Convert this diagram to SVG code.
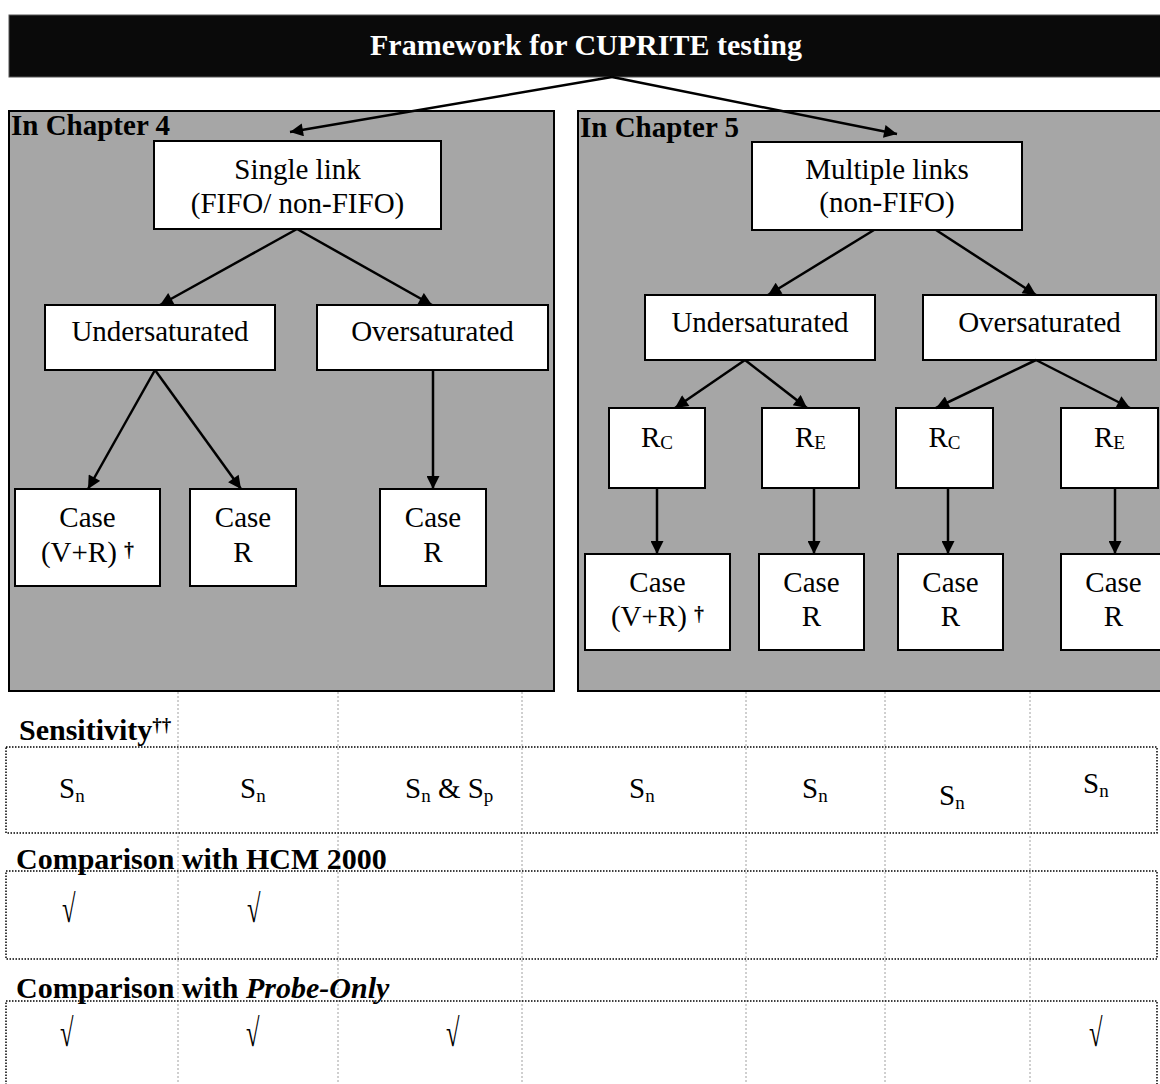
<svg xmlns="http://www.w3.org/2000/svg" width="1160" height="1084" viewBox="0 0 1160 1084">
<style>
.t{font-family:"Liberation Serif","Times New Roman",serif;font-size:29px;fill:#000;text-anchor:middle}
.l{font-family:"Liberation Serif","Times New Roman",serif;font-size:29px;fill:#000}
.bl{font-family:"Liberation Serif","Times New Roman",serif;font-size:30px;font-weight:bold;fill:#000}
.sub{font-size:19px}
.dag{font-size:20px;font-weight:bold}
.box{fill:#fff;stroke:#000;stroke-width:2}
.panel{fill:#a6a6a6;stroke:#000;stroke-width:2}
.conn{stroke:#000;stroke-width:2.5;fill:none;marker-end:url(#ah)}
.grid{stroke:#a0a0a0;stroke-width:1;stroke-dasharray:2 2;fill:none}
.row{stroke:#000;stroke-width:1.5;stroke-dasharray:1.5 1.5;fill:none}
</style>
<defs>
<marker id="ah" viewBox="0 0 10 10" refX="10" refY="5" markerWidth="15" markerHeight="13" markerUnits="userSpaceOnUse" orient="auto">
<path d="M0,0 L10,5 L0,10 z" fill="#000"/>
</marker>
</defs>
<rect width="1160" height="1084" fill="#fff"/>

<g id="header">
<rect x="9" y="15" width="1160" height="62" fill="#0a0a0a" stroke="#555" stroke-width="1"/>
<text x="586" y="55" class="t" style="font-weight:bold;font-size:30px;fill:#fff">Framework for CUPRITE testing</text>
</g>

<g id="panel-ch4">
<rect x="9" y="111" width="545" height="580" class="panel"/>
<text x="11" y="135" class="bl" style="font-size:29px">In Chapter 4</text>
</g>
<g id="panel-ch5">
<rect x="578" y="111" width="590" height="580" class="panel"/>
<text x="580" y="137" class="bl" style="font-size:29px">In Chapter 5</text>
</g>

<g id="single-link">
<rect x="154" y="141" width="287" height="88" class="box"/>
<text x="297.5" y="179" class="t">Single link</text>
<text x="297.5" y="213" class="t">(FIFO/ non-FIFO)</text>
</g>
<g id="under-left">
<rect x="45" y="305" width="230" height="65" class="box"/>
<text x="160" y="341" class="t">Undersaturated</text>
</g>
<g id="over-left">
<rect x="317" y="305" width="231" height="65" class="box"/>
<text x="432.5" y="341" class="t">Oversaturated</text>
</g>
<g id="case-vr-left">
<rect x="15" y="489" width="145" height="97" class="box"/>
<text x="87.5" y="527" class="t">Case</text>
<text x="87.5" y="562" class="t">(V+R) <tspan class="dag" dy="-5">†</tspan></text>
</g>
<g id="case-r-left1">
<rect x="190" y="489" width="106" height="97" class="box"/>
<text x="243" y="527" class="t">Case</text>
<text x="243" y="562" class="t">R</text>
</g>
<g id="case-r-left2">
<rect x="380" y="489" width="106" height="97" class="box"/>
<text x="433" y="527" class="t">Case</text>
<text x="433" y="562" class="t">R</text>
</g>

<g id="multiple-links">
<rect x="752" y="142" width="270" height="88" class="box"/>
<text x="887" y="179" class="t">Multiple links</text>
<text x="887" y="212" class="t">(non-FIFO)</text>
</g>
<g id="under-right">
<rect x="645" y="295" width="230" height="65" class="box"/>
<text x="760" y="332" class="t">Undersaturated</text>
</g>
<g id="over-right">
<rect x="923" y="295" width="233" height="65" class="box"/>
<text x="1039.5" y="332" class="t">Oversaturated</text>
</g>
<g id="rc1">
<rect x="609" y="408" width="96" height="80" class="box"/>
<text x="657" y="447" class="t">R<tspan class="sub" dy="2">C</tspan></text>
</g>
<g id="re1">
<rect x="762" y="408" width="97" height="80" class="box"/>
<text x="810.5" y="447" class="t">R<tspan class="sub" dy="2">E</tspan></text>
</g>
<g id="rc2">
<rect x="896" y="408" width="97" height="80" class="box"/>
<text x="944.5" y="447" class="t">R<tspan class="sub" dy="2">C</tspan></text>
</g>
<g id="re2">
<rect x="1061" y="408" width="97" height="80" class="box"/>
<text x="1109.5" y="447" class="t">R<tspan class="sub" dy="2">E</tspan></text>
</g>
<g id="case-vr-right">
<rect x="585" y="554" width="145" height="96" class="box"/>
<text x="657.5" y="592" class="t">Case</text>
<text x="657.5" y="626" class="t">(V+R) <tspan class="dag" dy="-5">†</tspan></text>
</g>
<g id="case-r-right1">
<rect x="759" y="554" width="105" height="96" class="box"/>
<text x="811.5" y="592" class="t">Case</text>
<text x="811.5" y="626" class="t">R</text>
</g>
<g id="case-r-right2">
<rect x="898" y="554" width="105" height="96" class="box"/>
<text x="950.5" y="592" class="t">Case</text>
<text x="950.5" y="626" class="t">R</text>
</g>
<g id="case-r-right3">
<rect x="1061" y="554" width="105" height="96" class="box"/>
<text x="1113.5" y="592" class="t">Case</text>
<text x="1113.5" y="626" class="t">R</text>
</g>

<g id="connectors">
<path class="conn" d="M612,77 L290,132"/>
<path class="conn" d="M612,77 L897,134"/>
<path class="conn" d="M297,229 L160,305"/>
<path class="conn" d="M297,229 L432,305"/>
<path class="conn" d="M155,370 L88,489"/>
<path class="conn" d="M155,370 L241,489"/>
<path class="conn" d="M433,370 L433,489"/>
<path class="conn" d="M874,230 L768,295"/>
<path class="conn" d="M936,230 L1036,295"/>
<path class="conn" d="M745,360 L675,408"/>
<path class="conn" d="M745,360 L807,408"/>
<path class="conn" d="M1036,360 L936,408"/>
<path class="conn" d="M1036,360 L1130,408"/>
<path class="conn" d="M657,488 L657,554"/>
<path class="conn" d="M814,488 L814,554"/>
<path class="conn" d="M948,488 L948,554"/>
<path class="conn" d="M1115,488 L1115,554"/>
</g>

<g id="table">
<path class="grid" d="M178,692 V1084 M338,692 V1084 M522,692 V1084 M746,692 V1084 M885,692 V1084 M1030,692 V1084"/>
<rect class="row" x="6" y="747" width="1151" height="86"/>
<rect class="row" x="6" y="871" width="1151" height="88"/>
<rect class="row" x="6" y="1001" width="1151" height="100"/>

<text x="19" y="740" class="bl">Sensitivity<tspan style="font-size:19px" dy="-9">††</tspan></text>
<text x="59" y="798" class="l">S<tspan class="sub" dy="4">n</tspan></text>
<text x="240" y="798" class="l">S<tspan class="sub" dy="4">n</tspan></text>
<text x="405" y="798" class="l">S<tspan class="sub" dy="4">n</tspan><tspan dy="-4"> &amp; S</tspan><tspan class="sub" dy="4">p</tspan></text>
<text x="629" y="798" class="l">S<tspan class="sub" dy="4">n</tspan></text>
<text x="802" y="798" class="l">S<tspan class="sub" dy="4">n</tspan></text>
<text x="939" y="805" class="l">S<tspan class="sub" dy="4">n</tspan></text>
<text x="1083" y="793" class="l">S<tspan class="sub" dy="4">n</tspan></text>

<text x="16" y="869" class="bl">Comparison with HCM 2000</text>
<text transform="translate(62,922) scale(0.85,1.35)" class="l">√</text>
<text transform="translate(247,922) scale(0.85,1.35)" class="l">√</text>

<text x="16" y="998" class="bl">Comparison with <tspan font-style="italic">Probe-Only</tspan></text>
<text transform="translate(60,1046) scale(0.85,1.35)" class="l">√</text>
<text transform="translate(246,1046) scale(0.85,1.35)" class="l">√</text>
<text transform="translate(446,1046) scale(0.85,1.35)" class="l">√</text>
<text transform="translate(1089,1046) scale(0.85,1.35)" class="l">√</text>
</g>
</svg>
